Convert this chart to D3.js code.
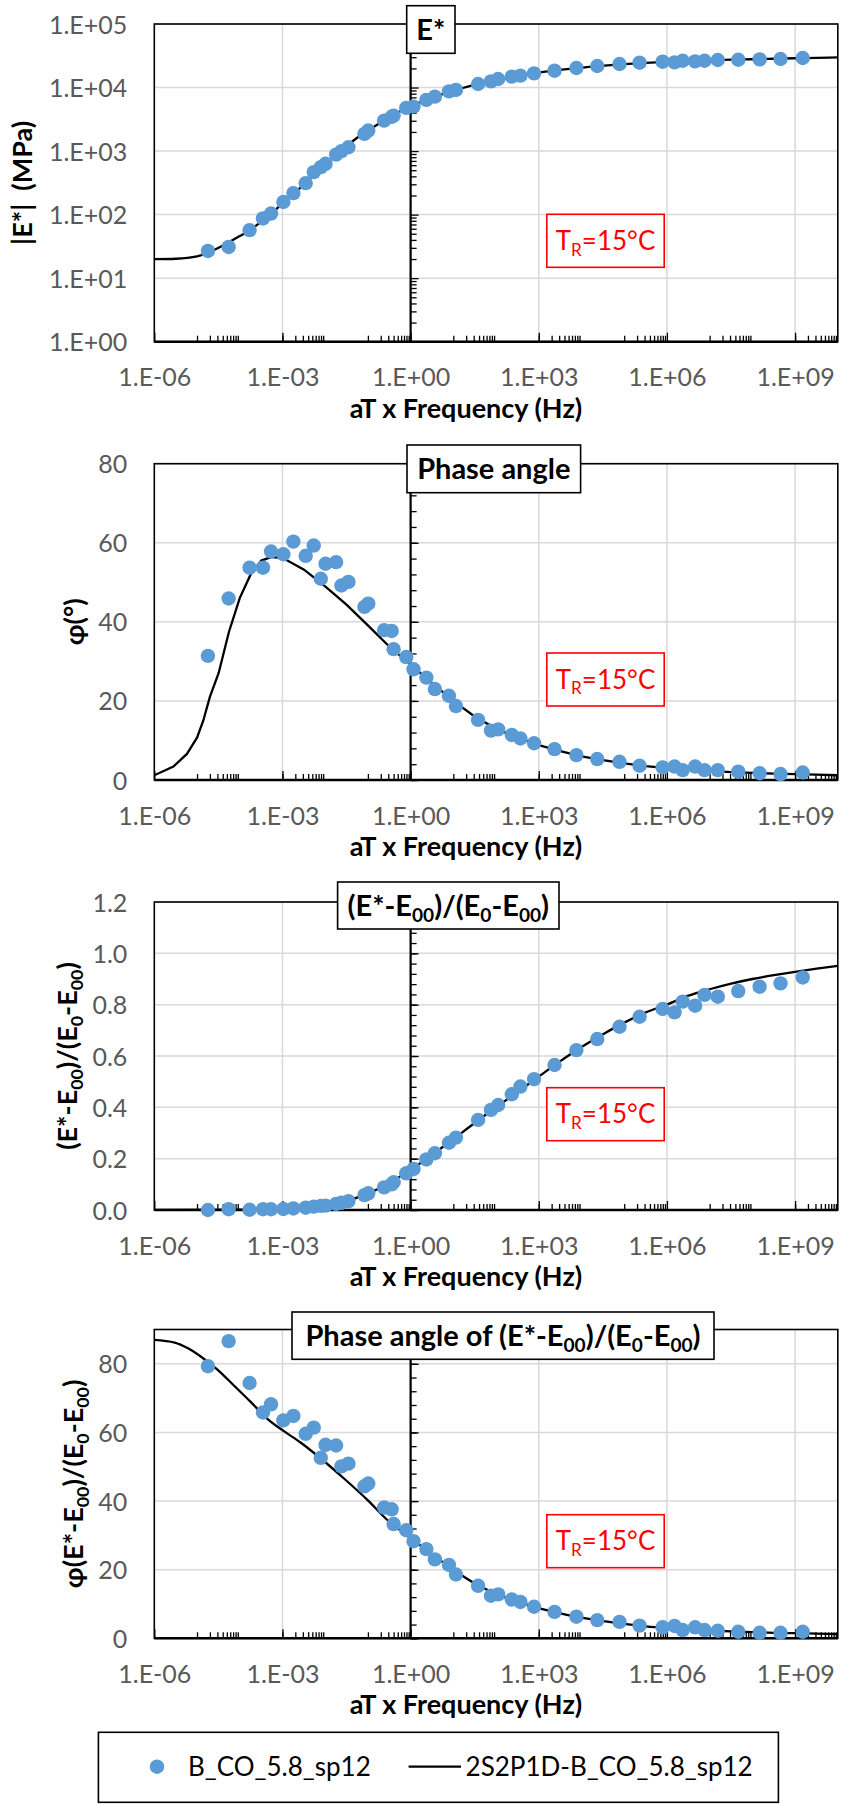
<!DOCTYPE html>
<html>
<head>
<meta charset="utf-8">
<script src="https://cdn.jsdelivr.net/npm/d3@7"></script>
<style>
  body { margin: 0; background: #fff; }
  svg { display: block; }
  text { font-family: Lato, "Noto Sans", sans-serif; }
</style>
</head>
<body>
<svg id="chart" width="843" height="1804"></svg>
<script>
// ---------------- DATA ----------------
// reduced frequency aT x f (Hz) of the measured points
const freq = [1.8e-5,5.5e-5,1.7e-4,3.5e-4,5.4e-4,1.05e-3,1.8e-3,3.5e-3,5.4e-3,7.9e-3,
  1.02e-2,1.8e-2,2.4e-2,3.5e-2,8.3e-2,0.102,0.24,0.36,0.40,0.79,
  1.17,2.34,3.7,7.9,11.5,38,76,112,234,372,
  776,2340,7600,23400,77600,229000,794000,1.51e6,2.34e6,4.57e6,
  7.59e6,1.55e7,4.68e7,1.48e8,4.57e8,1.51e9];
// |E*| (MPa)
const eStar = [26.8,31,57,87,104,158,218,313,467,559,
  631,880,1000,1150,1866,2105,3020,3450,3620,4785,
  5010,6390,7190,8710,9160,11380,12510,13640,14830,15380,
  16720,18420,20290,21810,23450,24600,25500,24900,26430,25770,
  26430,27100,27400,27700,28100,29200];
// phase angle (deg)
const phase = [31.4,45.9,53.7,53.7,57.8,57.1,60.3,56.7,59.3,50.9,
  54.7,55.1,49.2,50.1,43.8,44.6,37.9,37.7,33.1,31.1,
  28.0,25.9,23.0,21.3,18.7,15.2,12.5,12.8,11.4,10.5,
  9.3,7.8,6.3,5.3,4.6,3.6,3.2,3.4,2.5,3.4,
  2.5,2.5,2.1,1.7,1.5,1.9];
// (E*-E00)/(E0-E00)
const eNorm = [0.000,0.003,0.001,0.003,0.003,0.004,0.006,0.009,0.013,0.016,
  0.017,0.024,0.028,0.034,0.058,0.065,0.088,0.100,0.108,0.143,
  0.160,0.197,0.221,0.262,0.282,0.351,0.390,0.409,0.451,0.481,
  0.510,0.565,0.623,0.666,0.714,0.753,0.783,0.770,0.812,0.796,
  0.838,0.831,0.853,0.870,0.883,0.906];
// phase angle of (E*-E00)/(E0-E00)
const phaseNorm = [79.3,86.6,74.4,65.8,68.2,63.5,64.8,59.6,61.4,52.6,
  56.4,56.2,50.1,50.9,44.3,45.1,38.1,37.6,33.3,31.5,
  28.3,26.0,23.0,21.4,18.6,15.3,12.4,12.8,11.3,10.6,
  9.2,7.7,6.3,5.3,4.8,3.7,3.2,3.6,2.4,3.2,
  2.4,2.2,1.9,1.6,1.6,1.9];

// 2S2P1D model curves
const modelFreqE = [1e-6,3.2e-6,1e-5,1.8e-5,3.2e-5,5.6e-5,1e-4,1.8e-4,3.2e-4,5.6e-4,
  1e-3,1.8e-3,3.2e-3,5.6e-3,1e-2,1.8e-2,3.2e-2,5.6e-2,0.1,0.18,
  0.32,0.56,1,1.8,3.2,5.6,10,32,100,320,
  1e3,3.2e3,1e4,3.2e4,1e5,3.2e5,1e6,3.2e6,1e7,3.2e7,
  1e8,3.2e8,1e9,3.2e9,1e10];
const modelE = [19.9,20.2,22,25,30,37,46,58,78,105,
  150,210,300,430,610,860,1200,1620,2100,2700,
  3400,4200,5050,5950,6900,7900,8900,11100,13000,15200,
  17200,18900,20600,22000,23300,24400,25300,26100,26800,27400,
  27900,28400,28900,29300,29800];
const modelFreqPhase = [1e-6,2.8e-6,5.8e-6,1e-5,1.4e-5,2e-5,3.2e-5,5.6e-5,1e-4,1.8e-4,
  3.2e-4,5.6e-4,1e-3,3.2e-3,1e-2,3.2e-2,0.1,0.32,1,3.2,
  10,32,100,320,1e3,3.2e3,1e4,3.2e4,1e5,3.2e5,
  1e6,3.2e6,1e7,3.2e7,1e8,3.2e8,1e9,3.2e9,1e10];
const modelPhase = [1.2,3.4,6.6,10.7,15,21,27,37.5,46,52,
  55.5,56.4,56.2,53.2,49,44.3,39.1,33.7,29.2,24.5,
  20,16,13,10.7,8.8,7.3,6.0,5.0,4.2,3.5,
  3.0,2.6,2.3,2.0,1.8,1.6,1.5,1.35,1.2];
const modelFreqNorm = [1e-6,1e-4,1e-3,3.2e-3,1e-2,3.2e-2,0.1,0.32,1,3.2,
  10,32,100,320,1e3,3.2e3,1e4,3.2e4,1e5,3.2e5,
  1e6,3.2e6,1e7,3.2e7,1e8,3.2e8,1e9,3.2e9,1e10];
const modelNorm = [0,0.001,0.004,0.009,0.018,0.036,0.064,0.105,0.157,0.215,
  0.276,0.34,0.40,0.46,0.52,0.58,0.635,0.685,0.73,0.77,
  0.80,0.835,0.86,0.882,0.90,0.915,0.928,0.94,0.951];
const modelFreqPhaseNorm = [1e-6,3e-6,6e-6,1.2e-5,3e-5,7.4e-5,1.8e-4,4.5e-4,1.1e-3,2.7e-3,
  7.9e-3,2.8e-2,0.1,0.29,1,3.2,10,32,100,320,
  1e3,3.2e3,1e4,3.2e4,1e5,3.2e5,1e6,3.2e6,1e7,3.2e7,
  1e8,3.2e8,1e9,3.2e9,1e10];
const modelPhaseNorm = [87.0,86.2,84.6,82.2,78.3,73.6,68.9,63.9,60.3,57.0,
  52.4,46.5,40.2,34.4,29.2,24.5,20,16,13,10.7,
  8.8,7.3,6.0,5.0,4.2,3.5,3.0,2.6,2.3,2.0,
  1.8,1.6,1.5,1.35,1.2];

// ticks
const xTickValues = [1e-6,1e-3,1,1e3,1e6,1e9];
const xTickLabels = ["1.E-06","1.E-03","1.E+00","1.E+03","1.E+06","1.E+09"];
const eTickValues = [1,10,100,1000,1e4,1e5];
const eTickLabels = ["1.E+00","1.E+01","1.E+02","1.E+03","1.E+04","1.E+05"];
const phaseTickValues = [0,20,40,60,80];
const phaseTickLabels = ["0","20","40","60","80"];
const normTickValues = [0,0.2,0.4,0.6,0.8,1.0,1.2];
const normTickLabels = ["0.0","0.2","0.4","0.6","0.8","1.0","1.2"];

const seriesName = "B_CO_5.8_sp12";
const modelName = "2S2P1D-B_CO_5.8_sp12";
const xTitle = "aT x Frequency (Hz)";

// ---------------- LAYOUT ----------------
const BLUE = "#5B9BD5", GRID = "#d9d9d9", TICKTXT = "#595959";
const X0 = 154.3, X1 = 837.8;
const x = d3.scaleLog().domain([1e-6, 1e10]).range([X0, X1]);
const svg = d3.select("#chart");
svg.append("rect").attr("width", 843).attr("height", 1804).attr("fill", "#fff");

// x minor ticks: Excel pattern, every other decade
const xMinor = [];
[-5,-3,-1,1,3,5,7,9].forEach(d => { for (let m = 1; m <= 9; m++) xMinor.push(m * Math.pow(10, d)); });

const logMinor = [];
for (let d = 0; d < 5; d++) for (let m = 2; m <= 9; m++) logMinor.push(m * Math.pow(10, d));

const panels = [
  { top: 24, bottom: 341.7, y: d3.scaleLog().domain([1, 1e5]),
    ticks: eTickValues, labels: eTickLabels, minor: logMinor,
    vals: eStar, mf: modelFreqE, mv: modelE, curve: d3.curveMonotoneX,
    title: [{t: "E*"}], box: [406.7, 5.7, 48.3, 47.6], tr: 214.3,
    ytitle: [{t: "|E*|  (MPa)"}], ytx: 32 },
  { top: 463.7, bottom: 780, y: d3.scaleLinear().domain([0, 80]),
    ticks: phaseTickValues, labels: phaseTickLabels, minor: d3.range(0, 81, 4),
    vals: phase, mf: modelFreqPhase, mv: modelPhase, curve: d3.curveLinear,
    title: [{t: "Phase angle"}], box: [407, 445, 173.6, 47.7], tr: 653,
    ytitle: [{t: "φ(°)"}], ytx: 84 },
  { top: 902, bottom: 1210, y: d3.scaleLinear().domain([0, 1.2]),
    ticks: normTickValues, labels: normTickLabels, minor: d3.range(0, 31).map(i => i * 0.04),
    vals: eNorm, mf: modelFreqNorm, mv: modelNorm, curve: d3.curveMonotoneX,
    title: [{t: "(E*-E"}, {t: "00", sub: 1}, {t: ")/(E"}, {t: "0", sub: 1}, {t: "-E"}, {t: "00", sub: 1}, {t: ")"}],
    box: [337.6, 882, 221.4, 47], tr: 1087.7,
    ytitle: [{t: "(E*-E"}, {t: "00", sub: 1}, {t: ")/(E"}, {t: "0", sub: 1}, {t: "-E"}, {t: "00", sub: 1}, {t: ")"}], ytx: 77 },
  { top: 1329.5, bottom: 1638.3, y: d3.scaleLinear().domain([0, 90]),
    ticks: phaseTickValues, labels: phaseTickLabels, minor: d3.range(0, 89, 4),
    vals: phaseNorm, mf: modelFreqPhaseNorm, mv: modelPhaseNorm, curve: d3.curveMonotoneX,
    title: [{t: "Phase angle of (E*-E"}, {t: "00", sub: 1}, {t: ")/(E"}, {t: "0", sub: 1}, {t: "-E"}, {t: "00", sub: 1}, {t: ")"}],
    box: [292, 1312, 422, 47.3], tr: 1514.7,
    ytitle: [{t: "φ(E*-E"}, {t: "00", sub: 1}, {t: ")/(E"}, {t: "0", sub: 1}, {t: "-E"}, {t: "00", sub: 1}, {t: ")"}], ytx: 83 }
];

function rich(textSel, parts, fs) {
  const sh = 0.22 * fs;
  let down = false;
  parts.forEach(p => {
    const ts = textSel.append("tspan").text(p.t);
    if (p.sub) {
      ts.attr("font-size", fs * 0.66);
      if (!down) { ts.attr("dy", sh); down = true; }
    } else if (down) { ts.attr("dy", -sh); down = false; }
  });
}

panels.forEach((p, i) => {
  const g = svg.append("g");
  const y = p.y.range([p.bottom, p.top]);
  const yAxisX = x(1);

  // gridlines
  g.append("g").selectAll("line").data(p.ticks.slice(1)).join("line")
    .attr("x1", X0).attr("x2", X1).attr("y1", d => y(d)).attr("y2", d => y(d))
    .attr("stroke", GRID).attr("stroke-width", 1.5);
  g.append("g").selectAll("line").data(xTickValues.slice(1)).join("line")
    .attr("x1", d => x(d)).attr("x2", d => x(d)).attr("y1", p.top).attr("y2", p.bottom)
    .attr("stroke", GRID).attr("stroke-width", 1.5);

  // plot border
  g.append("rect").attr("x", X0).attr("y", p.top).attr("width", X1 - X0).attr("height", p.bottom - p.top)
    .attr("fill", "none").attr("stroke", "#000").attr("stroke-width", 1.6);

  // bottom axis: minor + major ticks (inside), then labels
  const xMinAx = d3.axisBottom(x).tickValues(xMinor).tickSizeInner(-6).tickSizeOuter(0).tickFormat("");
  const xMajAx = d3.axisBottom(x).tickValues(xTickValues).tickSizeInner(-9).tickSizeOuter(0).tickFormat("");
  [xMinAx, xMajAx].forEach(ax => {
    const a = g.append("g").attr("transform", `translate(0,${p.bottom})`).call(ax);
    a.select(".domain").remove();
    a.selectAll("line").attr("stroke", "#000").attr("stroke-width", 1.3);
  });
  g.append("line").attr("x1", X0).attr("x2", X1).attr("y1", p.bottom).attr("y2", p.bottom)
    .attr("stroke", "#000").attr("stroke-width", 2.6);
  const xLab = d3.axisBottom(x).tickValues(xTickValues).tickSize(0).tickPadding(27)
    .tickFormat((d, k) => xTickLabels[k]);
  const xl = g.append("g").attr("transform", `translate(0,${p.bottom})`).call(xLab);
  xl.select(".domain").remove();
  xl.selectAll("text").attr("font-family", "Lato").attr("font-size", 25).attr("fill", TICKTXT);

  // y axis at x = 1
  const yMinAx = d3.axisRight(y).tickValues(p.minor).tickSizeInner(6).tickSizeOuter(0).tickFormat("");
  const yMajAx = d3.axisRight(y).tickValues(p.ticks).tickSizeInner(8).tickSizeOuter(0).tickFormat("");
  [yMinAx, yMajAx].forEach(ax => {
    const a = g.append("g").attr("transform", `translate(${yAxisX},0)`).call(ax);
    a.select(".domain").remove();
    a.selectAll("line").attr("stroke", "#000").attr("stroke-width", 1.3);
  });
  g.append("line").attr("x1", yAxisX).attr("x2", yAxisX).attr("y1", p.top).attr("y2", p.bottom)
    .attr("stroke", "#000").attr("stroke-width", 2.2);
  const yLab = d3.axisLeft(y).tickValues(p.ticks).tickSize(0).tickPadding(27)
    .tickFormat((d, k) => p.labels[k]);
  const yl = g.append("g").attr("transform", `translate(${X0},0)`).call(yLab);
  yl.select(".domain").remove();
  yl.selectAll("text").attr("font-family", "Lato").attr("font-size", 25).attr("fill", TICKTXT).attr("dy", "0.36em");

  // model line
  const clipId = "clip" + i;
  svg.append("clipPath").attr("id", clipId).append("rect")
    .attr("x", X0).attr("y", p.top - 2).attr("width", X1 - X0).attr("height", p.bottom - p.top + 2);
  const line = d3.line().x(d => x(d[0])).y(d => y(d[1])).curve(p.curve);
  g.append("path").datum(p.mf.map((f, k) => [f, p.mv[k]]))
    .attr("d", line).attr("fill", "none").attr("stroke", "#000").attr("stroke-width", 2.3)
    .attr("clip-path", `url(#${clipId})`);

  // points
  g.append("g").selectAll("circle").data(freq.map((f, k) => [f, p.vals[k]])).join("circle")
    .attr("cx", d => x(d[0])).attr("cy", d => y(d[1])).attr("r", 7.2).attr("fill", BLUE);

  // T_R box
  const trc = p.tr + 26.5;
  g.append("rect").attr("x", 546.8).attr("y", p.tr).attr("width", 117.4).attr("height", 53)
    .attr("fill", "#fff").attr("stroke", "#ff0000").attr("stroke-width", 1.6);
  const trt = g.append("text").attr("x", 605.5).attr("y", trc + 9).attr("text-anchor", "middle")
    .attr("font-size", 26).attr("fill", "#ff0000");
  rich(trt, [{t: "T"}, {t: "R", sub: 1}, {t: "=15°C"}], 26);

  // title box
  const b = p.box;
  g.append("rect").attr("x", b[0]).attr("y", b[1]).attr("width", b[2]).attr("height", b[3])
    .attr("fill", "#fff").attr("stroke", "#000").attr("stroke-width", 1.6);
  const tt = g.append("text").attr("x", b[0] + b[2] / 2).attr("y", b[1] + b[3] / 2 + 10)
    .attr("text-anchor", "middle").attr("font-size", 29).attr("font-weight", "bold").attr("fill", "#000");
  rich(tt, p.title, 29);

  // axis titles
  g.append("text").attr("x", 466).attr("y", p.bottom + 76).attr("text-anchor", "middle")
    .attr("font-size", 27).attr("font-weight", "bold").attr("fill", "#000").text(xTitle);
  const yt = g.append("text").attr("transform", `translate(${p.ytx},${(p.top + p.bottom) / 2}) rotate(-90)`)
    .attr("text-anchor", "middle").attr("font-size", 27).attr("font-weight", "bold").attr("fill", "#000")
    .style("white-space", "pre");
  rich(yt, p.ytitle, 27);
});

// legend
const lg = svg.append("g");
lg.append("rect").attr("x", 98.4).attr("y", 1732.3).attr("width", 680).attr("height", 70)
  .attr("fill", "#fff").attr("stroke", "#000").attr("stroke-width", 1.6);
lg.append("circle").attr("cx", 157).attr("cy", 1766.7).attr("r", 7.2).attr("fill", BLUE);
lg.append("text").attr("x", 188).attr("y", 1776).attr("font-size", 26).attr("fill", "#000").text(seriesName);
lg.append("line").attr("x1", 408.6).attr("x2", 461).attr("y1", 1766.7).attr("y2", 1766.7)
  .attr("stroke", "#000").attr("stroke-width", 2.3);
lg.append("text").attr("x", 465.6).attr("y", 1776).attr("font-size", 26).attr("fill", "#000").text(modelName);
</script>
</body>
</html>
